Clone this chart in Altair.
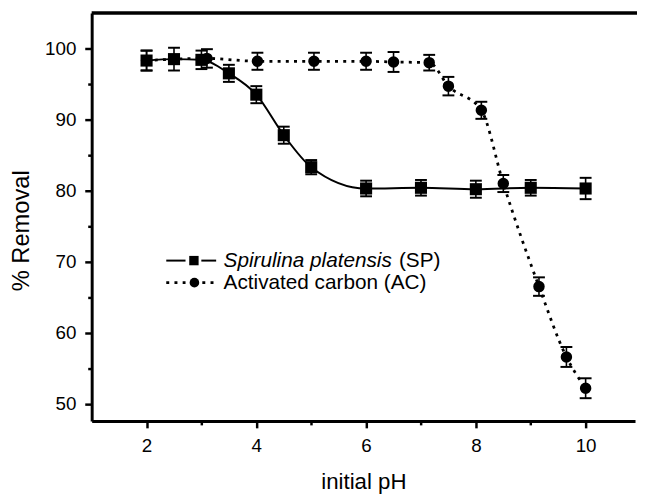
import altair as alt
import pandas as pd

# ---- data ----
sp_ph = [2.0, 2.5, 3.0, 3.5, 4.0, 4.5, 5.0, 6.0, 7.0, 8.0, 9.0, 10.0]
sp_removal = [98.3, 98.5, 98.4, 96.5, 93.5, 87.8, 83.3, 80.3, 80.4, 80.2, 80.4, 80.3]
sp_err = [1.4, 1.6, 1.3, 1.2, 1.2, 1.2, 1.0, 1.1, 1.1, 1.2, 1.1, 1.5]

ac_ph = [2.0, 3.1, 4.02, 5.05, 6.0, 6.5, 7.15, 7.5, 8.1, 8.5, 9.15, 9.65, 10.0]
ac_removal = [98.3, 98.6, 98.2, 98.2, 98.2, 98.1, 98.0, 94.7, 91.3, 81.0, 66.5, 56.6, 52.2]
ac_err = [1.4, 1.3, 1.2, 1.2, 1.2, 1.4, 1.1, 1.3, 1.2, 1.2, 1.3, 1.4, 1.4]

x_ticks = [2, 3, 4, 5, 6, 7, 8, 9, 10]
y_ticks = [50, 55, 60, 65, 70, 75, 80, 85, 90, 95, 100]

sp_label = "Spirulina platensis"
sp_abbr = "(SP)"
ac_label = "Activated carbon (AC)"

FONT = "Liberation Sans"
W, H = 550, 413

sp = pd.DataFrame({"ph": sp_ph, "r": sp_removal, "e": sp_err})
sp["lo"] = sp["r"] - sp["e"]
sp["hi"] = sp["r"] + sp["e"]
ac = pd.DataFrame({"ph": ac_ph, "r": ac_removal, "e": ac_err})
ac["lo"] = ac["r"] - ac["e"]
ac["hi"] = ac["r"] + ac["e"]

xscale = alt.Scale(domain=[1, 10.9], nice=False, zero=False)
yscale = alt.Scale(domain=[47.6, 105], nice=False, zero=False)

x_axis = alt.Axis(
    values=x_ticks,
    labelExpr="datum.value % 2 == 0 ? datum.label : ''",
    tickSize={"condition": {"test": "datum.value % 2 == 0", "value": 7}, "value": 4},
    tickWidth=2.5, tickColor="black",
    domainWidth=3, domainColor="black",
    labelFont=FONT, labelFontSize=19, labelColor="black", labelPadding=9,
    grid=False,
    titleFont=FONT, titleFontSize=22.5, titleFontWeight="normal", titleColor="black",
    titleX=W / 2, titleY=68, titleBaseline="alphabetic", titleAlign="center",
)
y_axis = alt.Axis(
    values=y_ticks,
    labelExpr="datum.value % 10 == 0 ? datum.label : ''",
    tickSize={"condition": {"test": "datum.value % 10 == 0", "value": 7}, "value": 4},
    tickWidth=2.5, tickColor="black",
    domainWidth=3, domainColor="black",
    labelFont=FONT, labelFontSize=19, labelColor="black", labelPadding=9,
    grid=False,
    titleFont=FONT, titleFontSize=24, titleFontWeight="normal", titleColor="black",
    titleAngle=-90, titleX=-64, titleY=220, titleBaseline="alphabetic", titleAlign="center",
)


def X(field="ph"):
    return alt.X(f"{field}:Q", scale=xscale, axis=x_axis, title="initial pH")


def Y(field):
    return alt.Y(f"{field}:Q", scale=yscale, axis=y_axis, title="% Removal")


def errbars(df):
    base = alt.Chart(df)
    stem = base.mark_rule(color="black", strokeWidth=1.6, opacity=1).encode(
        x=X(), y=Y("lo"), y2="hi:Q")
    cap_lo = base.mark_tick(color="black", orient="horizontal", size=12, thickness=2, opacity=1).encode(
        x=X(), y=Y("lo"))
    cap_hi = base.mark_tick(color="black", orient="horizontal", size=12, thickness=2, opacity=1).encode(
        x=X(), y=Y("hi"))
    return [stem, cap_lo, cap_hi]


sp_line = alt.Chart(sp).mark_line(color="black", strokeWidth=2, interpolate="monotone").encode(
    x=X(), y=Y("r"))
sp_pts = alt.Chart(sp).mark_point(shape="square", filled=True, color="black", size=150, opacity=1).encode(
    x=X(), y=Y("r"))

ac_line = alt.Chart(ac).mark_line(color="black", strokeWidth=2.8, strokeDash=[3, 5.3],
                                  interpolate="monotone").encode(x=X(), y=Y("r"))
ac_pts = alt.Chart(ac).mark_point(shape="circle", filled=True, color="black", size=135, opacity=1).encode(
    x=X(), y=Y("r"))

one = pd.DataFrame({"k": [0]})
top_border = alt.Chart(one).mark_rule(color="black", strokeWidth=3.5).encode(
    x=alt.value(0), x2=alt.value(W + 3), y=alt.value(0))

# legend (drawn inside the plot)
ly1, ly2 = 250.7, 273
leg = [
    alt.Chart(one).mark_rule(color="black", strokeWidth=2).encode(
        x=alt.value(75.5), x2=alt.value(95), y=alt.value(ly1)),
    alt.Chart(one).mark_rule(color="black", strokeWidth=2).encode(
        x=alt.value(111), x2=alt.value(126), y=alt.value(ly1)),
    alt.Chart(one).mark_point(shape="square", filled=True, color="black", size=90, opacity=1).encode(
        x=alt.value(103.5), y=alt.value(ly1)),
    alt.Chart(one).mark_rule(color="black", strokeWidth=2.8, strokeDash=[3, 5.3]).encode(
        x=alt.value(75.5), x2=alt.value(95), y=alt.value(ly2)),
    alt.Chart(one).mark_rule(color="black", strokeWidth=2.8, strokeDash=[3, 5.3]).encode(
        x=alt.value(112), x2=alt.value(128), y=alt.value(ly2)),
    alt.Chart(one).mark_point(shape="circle", filled=True, color="black", size=95, opacity=1).encode(
        x=alt.value(104), y=alt.value(ly2)),
    alt.Chart(pd.DataFrame({"t": [sp_label]})).mark_text(
        font=FONT, fontSize=21, fontStyle="italic", align="left", baseline="middle", color="black").encode(
        x=alt.value(133.5), y=alt.value(ly1), text="t:N"),
    alt.Chart(pd.DataFrame({"t": [sp_abbr]})).mark_text(
        font=FONT, fontSize=21, align="left", baseline="middle", color="black").encode(
        x=alt.value(311), y=alt.value(ly1), text="t:N"),
    alt.Chart(pd.DataFrame({"t": [ac_label]})).mark_text(
        font=FONT, fontSize=21, align="left", baseline="middle", color="black").encode(
        x=alt.value(133.5), y=alt.value(ly2), text="t:N"),
]

chart = alt.layer(
    *errbars(sp), sp_line, sp_pts,
    *errbars(ac), ac_line, ac_pts,
    top_border, *leg,
).properties(
    width=W, height=H,
    autosize=alt.AutoSizeParams(type="none"),
    padding={"left": 84.7, "top": 2, "right": 2, "bottom": 73},
    background="white",
).configure_view(stroke=None)

chart.save("out.html", embed_options={"renderer": "svg", "actions": False})
